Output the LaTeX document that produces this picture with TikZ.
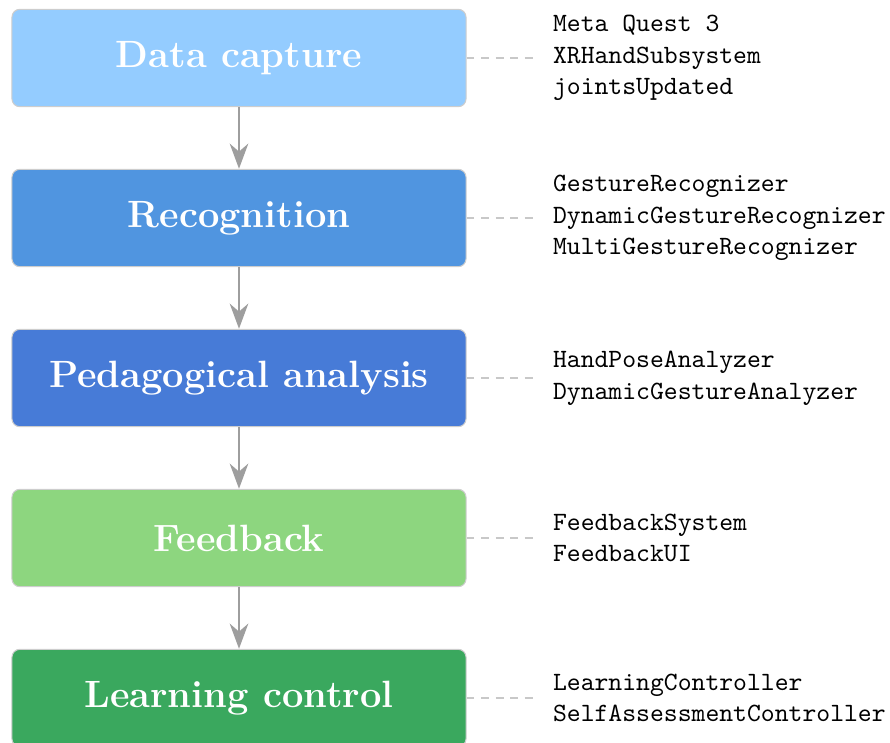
\documentclass[tikz,border=0pt]{standalone}
\usetikzlibrary{arrows.meta}
\definecolor{cA}{RGB}{148,204,255}
\definecolor{cB}{RGB}{80,149,224}
\definecolor{cC}{RGB}{71,123,215}
\definecolor{cD}{RGB}{141,214,127}
\definecolor{cE}{RGB}{58,168,94}
\definecolor{arrgray}{RGB}{158,158,158}
\definecolor{dashgray}{RGB}{200,200,200}
\definecolor{bordergray}{RGB}{205,205,205}
\begin{document}
\begin{tikzpicture}[x=0.37879pt,y=-0.37879pt,
  stagebox/.style={rectangle, rounded corners=3pt, draw=bordergray, line width=0.4pt,
    minimum width=172pt, minimum height=36.9pt, inner sep=0pt,
    text=white, font=\Large\bfseries},
  codetext/.style={anchor=west, align=left, inner xsep=5.5pt, inner ysep=0pt, font=\ttfamily},
  flow/.style={draw=arrgray, line width=1pt, -{Stealth[length=9.5pt,width=7pt,inset=3pt]}},
  link/.style={draw=dashgray, line width=0.5pt, dash pattern=on 3pt off 2.5pt}]
\useasboundingbox (0,0) rectangle (890,742);
\node[stagebox, fill=cA] (b1) at (239,58) {Data capture};
\node[stagebox, fill=cB] (b2) at (239,218) {Recognition};
\node[stagebox, fill=cC] (b3) at (239,378) {Pedagogical analysis};
\node[stagebox, fill=cD] (b4) at (239,538) {Feedback};
\node[stagebox, fill=cE] (b5) at (239,698) {Learning control};

\node[codetext] (t1) at (538,58) {Meta Quest 3\\XRHandSubsystem\\jointsUpdated};
\node[codetext] (t2) at (538,218) {GestureRecognizer\\DynamicGestureRecognizer\\MultiGestureRecognizer};
\node[codetext] (t3) at (538,378) {HandPoseAnalyzer\\DynamicGestureAnalyzer};
\node[codetext] (t4) at (538,538) {FeedbackSystem\\FeedbackUI};
\node[codetext] (t5) at (538,698) {LearningController\\SelfAssessmentController};

\foreach \i in {1,...,5} \draw[link] (b\i.east) -- (t\i.west);
\draw[flow] (b1.south) -- (b2.north);
\draw[flow] (b2.south) -- (b3.north);
\draw[flow] (b3.south) -- (b4.north);
\draw[flow] (b4.south) -- (b5.north);
\end{tikzpicture}
\end{document}
